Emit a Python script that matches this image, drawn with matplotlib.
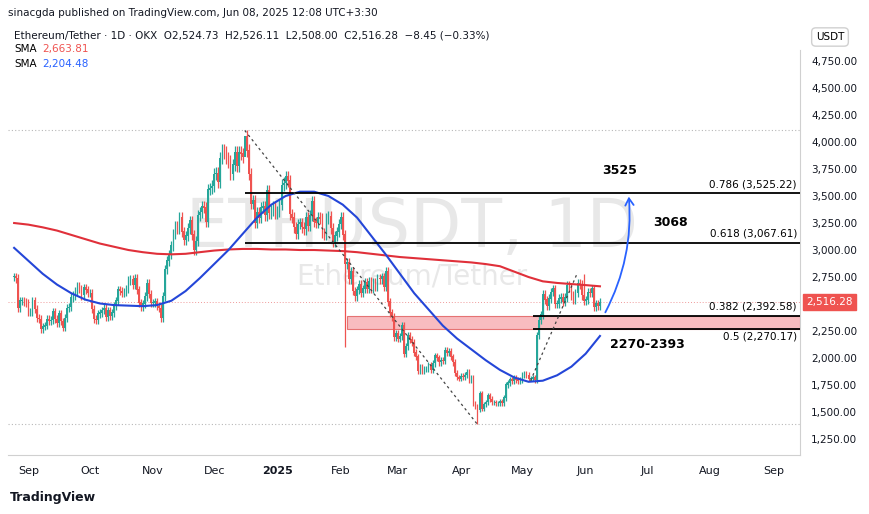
import numpy as np
import pandas as pd
import matplotlib
matplotlib.use("Agg")
import matplotlib.pyplot as plt
import matplotlib.dates as mdates
from matplotlib.patches import Rectangle, FancyArrowPatch

# daily closes, ETH/USDT, 2024-08-25 .. 2025-06-08
START = "2024-08-25"
CLOSES = [
    2750, 2740, 2460, 2530, 2530, 2520, 2510,
    2430, 2430, 2530, 2450, 2370, 2360, 2270, 2290, 2300, 2360, 2340, 2350, 2430, 2360, 2320,
    2410, 2340, 2280, 2370, 2460, 2470, 2560, 2580, 2620, 2660, 2640, 2580, 2650, 2630, 2600,
    2600, 2450, 2360, 2350, 2410, 2420, 2440, 2460, 2380, 2440, 2390, 2420, 2480, 2530, 2630,
    2620, 2600, 2610, 2640, 2720, 2730, 2680, 2740, 2630, 2510, 2470, 2500, 2570, 2690, 2590, 2510,
    2510, 2520, 2480, 2460, 2370, 2570, 2820, 2900, 2960, 3040, 3150, 3220, 3200, 3300, 3170,
    3090, 3130, 3200, 3270, 3140, 3000, 3080, 3320, 3350, 3400, 3390, 3260, 3560, 3570, 3590,
    3700, 3710, 3630, 3850, 3920, 3900, 3850, 3820, 3700, 3790, 3900, 3780, 3900, 3890, 3860,
    4050, 3920, 3700, 3430, 3460, 3250, 3350, 3300, 3390, 3400, 3320, 3550, 3340, 3370, 3400, 3340,
    3360, 3420, 3600, 3620, 3680, 3640, 3330, 3300, 3210, 3150, 3240, 3250, 3210, 3190, 3300,
    3220, 3320, 3450, 3260, 3250, 3300, 3290, 3160, 3140, 3290, 3310, 3200, 3070, 3130, 3170, 3240,
    3300, 3140, 2870, 2880, 2730, 2800, 2620, 2570, 2630, 2680, 2600, 2640, 2700, 2640,
    2710, 2640, 2700, 2660, 2740, 2730, 2750, 2660, 2800, 2520, 2420, 2380, 2190, 2230,
    2180, 2200, 2300, 2040, 2110, 2210, 2170, 2140, 2050, 2010, 1880, 1920, 1880, 1900, 1900,
    1930, 1890, 1950, 2020, 2000, 1960, 1980, 1970, 2070, 2050, 2060, 2010, 1960, 1860, 1820, 1810,
    1830, 1820, 1840, 1870, 1800, 1820, 1580, 1550, 1520, 1670, 1530, 1570, 1590, 1650, 1620,
    1590, 1590, 1580, 1580, 1600, 1580, 1630, 1750, 1770, 1800, 1790, 1820, 1800, 1790, 1800,
    1840, 1850, 1840, 1810, 1810, 1820, 1800, 2210, 2350, 2400, 2590, 2540, 2480, 2550, 2610,
    2640, 2500, 2500, 2550, 2560, 2520, 2560, 2670, 2650, 2580, 2540, 2600, 2690, 2680, 2580, 2530,
    2540, 2610, 2600, 2640, 2470, 2500, 2480, 2516,
]
LONG_WICKS = {"2024-12-16": 4107, "2025-02-03": 2100, "2025-04-09": 1385, "2025-05-31": 2780}

# moving averages read weekly from 2024-08-25 to 2025-06-08
SMA_START, SMA_END = "2024-08-25", "2025-06-08"
SMA50 = [3020, 2900, 2780, 2680, 2600, 2540, 2505, 2490, 2485, 2480,
         2490, 2530, 2620, 2740, 2870, 3000, 3150, 3300, 3420, 3500,
         3540, 3540, 3500, 3420, 3300, 3130, 2960, 2780, 2600, 2450,
         2300, 2180, 2080, 1980, 1890, 1820, 1780, 1790, 1840, 1920,
         2040, 2204]
SMA200 = [3250, 3235, 3210, 3180, 3140, 3100, 3060, 3030, 3000, 2980,
          2965, 2960, 2965, 2980, 2995, 3005, 3010, 3010, 3005, 3005,
          3000, 3000, 2995, 2990, 2980, 2965, 2950, 2935, 2925, 2915,
          2905, 2895, 2885, 2870, 2850, 2800, 2750, 2710, 2695, 2685,
          2675, 2664]

FIB_LEVELS = [0.786, 0.618, 0.382, 0.5]
FIB_PRICES = [3525.22, 3067.61, 2392.58, 2270.17]
MONTH_LABELS = ["Sep", "Oct", "Nov", "Dec", "2025", "Feb", "Mar", "Apr", "May", "Jun", "Jul", "Aug", "Sep"]

GREEN, RED, BLUE = "#26a69a", "#ef5350", "#2962ff"

dates = pd.date_range(START, periods=len(CLOSES), freq="D")
x = mdates.date2num(dates)
closes = np.array(CLOSES, dtype=float)
opens = np.r_[closes[0], closes[:-1]]
highs = np.maximum(opens, closes) * 1.015
lows = np.minimum(opens, closes) * 0.985
for d, v in LONG_WICKS.items():
    i = dates.get_loc(pd.Timestamp(d))
    if v > highs[i]:
        highs[i] = v
    else:
        lows[i] = v

fig = plt.figure(figsize=(8.7, 5.14), dpi=100)
ax = fig.add_axes([8 / 870, 1 - 455 / 514, 792 / 870, 405 / 514])
d2n = lambda s: mdates.date2num(pd.Timestamp(s))
ax.set_xlim(d2n("2024-08-22"), d2n("2025-09-14"))
ax.set_ylim(1102, 4852)

# watermark
ax.text(0.51, 0.56, "ETHUSDT, 1D", transform=ax.transAxes, ha="center", va="center",
        fontsize=48, color="#e8e8e8", zorder=0)
ax.text(0.51, 0.44, "Ethereum/Tether", transform=ax.transAxes, ha="center", va="center",
        fontsize=20, color="#e8e8e8", zorder=0)

# candles
cols = np.where(closes >= opens, GREEN, RED)
ax.vlines(x, lows, highs, colors=cols, lw=0.9, zorder=3)
ax.bar(x, np.abs(closes - opens) + 5, bottom=np.minimum(opens, closes), width=0.8,
       color=cols, zorder=3)

sma_x = mdates.date2num(pd.date_range(SMA_START, SMA_END, freq="7D"))
ax.plot(sma_x, SMA200, color="#e0303a", lw=1.5, zorder=4)
ax.plot(sma_x, SMA50, color="#2446d8", lw=1.5, zorder=4)

# reference lines
ax.axhline(4107, color="#b8b8b8", lw=0.8, ls=(0, (1, 2)))
ax.axhline(1385, color="#b8b8b8", lw=0.8, ls=(0, (1, 2)))
ax.axhline(2516.28, color="#ef9a9a", lw=0.7, ls=(0, (1, 2)))

# fib levels
fib_start = [d2n("2024-12-16"), d2n("2024-12-16"), d2n("2025-05-06"), d2n("2025-05-06")]
x_end = d2n("2025-09-14")
for lvl, p, xs in zip(FIB_LEVELS, FIB_PRICES, fib_start):
    ax.hlines(p, xs, x_end, color="black", lw=1.3, zorder=5)
    below = lvl == 0.5
    ax.text(x_end - 1.5, p + (-25 if below else 35), f"{lvl} ({p:,.2f})", fontsize=7.5,
            ha="right", va="top" if below else "bottom", zorder=6)
ax.add_patch(Rectangle((d2n("2025-02-04"), 2270.17), x_end - d2n("2025-02-04"),
                       2392.58 - 2270.17, facecolor="#f8bcc0", edgecolor="#e57373",
                       lw=0.8, zorder=2))

# dashed trend lines
ax.plot([d2n("2024-12-16"), d2n("2025-04-09")], [4107, 1385], color="#444", lw=0.9,
        ls=(0, (2, 2.5)), zorder=5)
ax.plot([d2n("2025-05-05"), d2n("2025-05-28")], [1790, 2790], color="#444", lw=0.9,
        ls=(0, (2, 2.5)), zorder=5)

ax.add_patch(FancyArrowPatch((d2n("2025-06-10"), 2400), (d2n("2025-06-22"), 3520),
                             connectionstyle="arc3,rad=0.15", arrowstyle="->,head_width=3,head_length=5",
                             color=BLUE, lw=1.3, zorder=6))

ax.text(d2n("2025-06-09"), 3700, "3525", fontsize=9, fontweight="bold", ha="left")
ax.text(d2n("2025-07-04"), 3220, "3068", fontsize=9, fontweight="bold", ha="left")
ax.text(d2n("2025-06-13"), 2090, "2270-2393", fontsize=9, fontweight="bold", ha="left")

# axes styling
for s in ["top", "left"]:
    ax.spines[s].set_visible(False)
for s in ["right", "bottom"]:
    ax.spines[s].set_color("#d0d0d0")
ax.yaxis.tick_right()
ax.set_yticks(np.arange(1250, 4751, 250))
ax.set_yticklabels([f"{v:,.2f}" for v in np.arange(1250, 4751, 250)])
ax.tick_params(axis="y", length=0, labelsize=7.5, pad=8, colors="#131722")
month_ticks = pd.date_range("2024-09-01", periods=13, freq="MS")
ax.set_xticks(mdates.date2num(month_ticks))
ax.set_xticklabels(MONTH_LABELS)
ax.tick_params(axis="x", length=0, labelsize=8, pad=8, colors="#131722")
ax.get_xticklabels()[4].set_fontweight("bold")

ax.text(1.008, 2516.28, "2,516.28", transform=ax.get_yaxis_transform(), fontsize=7.5,
        color="white", va="center", ha="left",
        bbox=dict(boxstyle="square,pad=0.3", fc=RED, ec=RED))

# header / legend
fig.text(8 / 870, 1 - 13 / 514, "sinacgda published on TradingView.com, Jun 08, 2025 12:08 UTC+3:30",
         fontsize=7.5, va="center", color="#131722")
fig.text(14 / 870, 1 - 35 / 514, "Ethereum/Tether · 1D · OKX  O2,524.73  H2,526.11  L2,508.00  C2,516.28  −8.45 (−0.33%)",
         fontsize=7.5, va="center", color="#131722")
fig.text(14 / 870, 1 - 49 / 514, "SMA", fontsize=7.5, va="center")
fig.text(42 / 870, 1 - 49 / 514, "2,663.81", fontsize=7.5, va="center", color=RED)
fig.text(14 / 870, 1 - 64 / 514, "SMA", fontsize=7.5, va="center")
fig.text(42 / 870, 1 - 64 / 514, "2,204.48", fontsize=7.5, va="center", color=BLUE)
fig.text(830 / 870, 1 - 37 / 514, "USDT", fontsize=7.5, va="center", ha="center",
         bbox=dict(boxstyle="round,pad=0.4", fc="white", ec="#d0d0d0"))
fig.text(10 / 870, 1 - 498 / 514, "TradingView", fontsize=9, fontweight="bold",
         va="center", color="#131722")

fig.savefig("out.png", dpi=100)
